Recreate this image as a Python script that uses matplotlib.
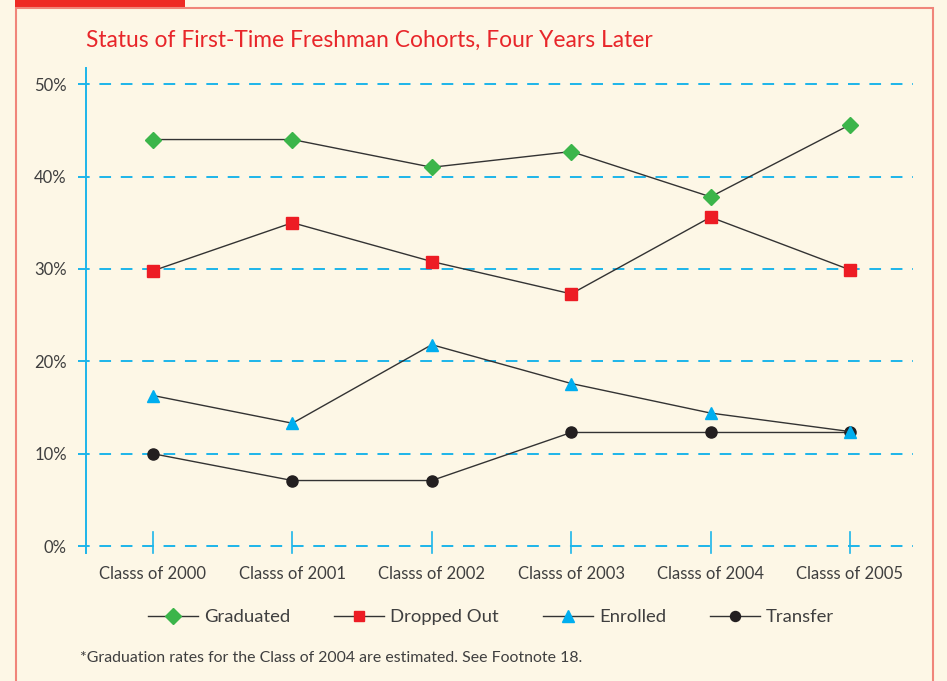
import matplotlib.pyplot as plt
import matplotlib.patches as mpatches

# data (percent)
classes = ["Classs of 2000", "Classs of 2001", "Classs of 2002",
           "Classs of 2003", "Classs of 2004", "Classs of 2005"]
graduated = [44.0, 44.0, 41.0, 42.7, 37.8, 45.6]
dropped_out = [29.8, 35.0, 30.8, 27.3, 35.6, 29.9]
enrolled = [16.3, 13.3, 21.8, 17.6, 14.4, 12.4]
transfer = [10.0, 7.1, 7.1, 12.3, 12.3, 12.3]
y_ticks = [0, 10, 20, 30, 40, 50]

BG = "#FDF7E6"
BLUE = "#1CB5EA"
TEXT = "#3F3F3F"
plt.rcParams["font.family"] = ["Lato", "DejaVu Sans"]

fig = plt.figure(figsize=(9.47, 6.81), dpi=100)
fig.patch.set_facecolor(BG)
W, H = 947, 681

# frame: red tab at top left and thin border
fig.add_artist(mpatches.Rectangle((15 / W, 1 - 7 / H), 170 / W, 7 / H,
                                  transform=fig.transFigure, color="#EE2A24", lw=0))
fig.add_artist(mpatches.Rectangle((16 / W, -0.05), (933 - 16) / W, 1.05 - 8 / H,
                                  transform=fig.transFigure, fill=False,
                                  edgecolor="#F0857A", lw=1.5))

ax = fig.add_axes([78 / W, 121 / H, 835 / W, 499 / H])
ax.set_facecolor("none")
x = list(range(len(classes)))

for v in y_ticks:
    ax.axhline(v, color=BLUE, lw=1.4, dashes=(6, 5), zorder=1)
# vertical axis line and category ticks
ax.plot([-0.481, -0.481], [-0.76, 51.7], color=BLUE, lw=1.4, zorder=1)
for xi in x:
    ax.plot([xi, xi], [-0.76, 1.5], color=BLUE, lw=1.2, zorder=1)

line_kw = dict(color="#333333", lw=1.0, zorder=2)
ax.plot(x, graduated, marker="D", ms=8.5, mfc="#3BB54A", mec="#3BB54A",
        label="Graduated", **line_kw)
ax.plot(x, dropped_out, marker="s", ms=8, mfc="#ED1C24", mec="#ED1C24",
        label="Dropped Out", **line_kw)
ax.plot(x, transfer, marker="o", ms=8, mfc="#231F20", mec="#231F20",
        label="Transfer", **line_kw)
ax.plot(x, enrolled, marker="^", ms=9, mfc="#00AEEF", mec="#00AEEF",
        label="Enrolled", **line_kw)

ax.set_xlim(-0.538, 5.452)
ax.set_ylim(-1.5, 52.5)
for s in ax.spines.values():
    s.set_visible(False)
ax.set_yticks(y_ticks)
ax.set_yticklabels([f"{v}%" for v in y_ticks], color=TEXT, fontsize=12)
ax.set_xticks(x)
ax.set_xticklabels(classes, color=TEXT, fontsize=12)
ax.tick_params(length=0, axis="y", pad=8)
ax.tick_params(length=0, axis="x", pad=4)

handles, labels = ax.get_legend_handles_labels()
order = [0, 1, 3, 2]
fig.legend([handles[i] for i in order], [labels[i] for i in order],
           loc="center left", bbox_to_anchor=(148 / W, 1 - 617 / H), ncol=4,
           frameon=False, fontsize=13.3, handlelength=2.7, handletextpad=0.32,
           columnspacing=2.4, borderpad=0, borderaxespad=0,
           labelcolor=TEXT, markerscale=0.9)

fig.text(86 / W, 1 - 40 / H, "Status of First-Time Freshman Cohorts, Four Years Later",
         color="#E8262A", fontsize=16.4, va="center", ha="left")
fig.text(80 / W, 1 - 658 / H,
         "*Graduation rates for the Class of 2004 are estimated. See Footnote 18.",
         color=TEXT, fontsize=11.4, va="center", ha="left")

fig.savefig("out.png", dpi=100, facecolor=BG)
